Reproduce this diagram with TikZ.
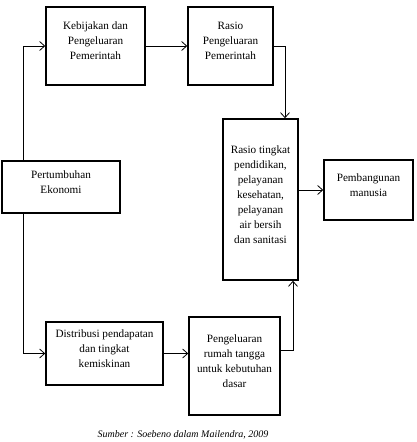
\documentclass[tikz,border=0pt]{standalone}
\usepackage{fontspec}
\setmainfont{Liberation Serif}
\usetikzlibrary{arrows.meta}

\begin{document}
\begin{tikzpicture}[x=1pt,y=1pt,
    box/.style={draw,line width=1.6pt,align=center,inner sep=2pt,
        font=\fontsize{11.2}{15}\selectfont,text depth=10pt},
    arr/.style={line width=0.8pt,-{Straight Barb[length=5pt,width=9pt]}}]

    \useasboundingbox (0,0) rectangle (417,442);

    % boxes
    \node[box,minimum width=99,minimum height=78] (kebijakan) at (95.5,396)
        {Kebijakan dan\\Pengeluaran\\Pemerintah};
    \node[box,minimum width=85,minimum height=78] (rasio) at (230.5,396)
        {Rasio\\Pengeluaran\\Pemerintah};
    \node[box,minimum width=75,minimum height=161] (tingkat) at (260.5,242.5)
        {Rasio tingkat\\pendidikan,\\pelayanan\\kesehatan,\\pelayanan\\air bersih\\dan sanitasi};
    \node[box,minimum width=89,minimum height=60] (pembangunan) at (368.5,252)
        {Pembangunan\\manusia};
    \node[box,minimum width=118,minimum height=52] (pertumbuhan) at (61,255)
        {Pertumbuhan\\Ekonomi};
    \node[box,minimum width=117,minimum height=63] (distribusi) at (104.5,88.5)
        {Distribusi pendapatan\\dan tingkat\\kemiskinan};
    \node[box,minimum width=91,minimum height=98] (rumah) at (234.5,76)
        {Pengeluaran\\rumah tangga\\untuk kebutuhan\\dasar};

    % connectors
    \draw[arr] ([xshift=-38pt]pertumbuhan.north) |- (kebijakan.west);
    \draw[arr] ([xshift=-38pt]pertumbuhan.south) |- (distribusi.west);
    \draw[arr] (kebijakan.east) -- (rasio.west);
    \draw[arr] (rasio.east) -| ([xshift=24.5pt]tingkat.north);
    \draw[arr] (pembangunan.west -| tingkat.east) -- (pembangunan.west);
    \draw[arr] (distribusi.east) -- (distribusi.east -| rumah.west);
    \draw[arr] ([yshift=16pt]rumah.east) -| ([xshift=32.5pt]tingkat.south);

    \node[font=\fontsize{10}{12}\selectfont\itshape] (sumber) at (183,7)
        {Sumber : Soebeno dalam Mailendra, 2009};

\end{tikzpicture}
\end{document}
